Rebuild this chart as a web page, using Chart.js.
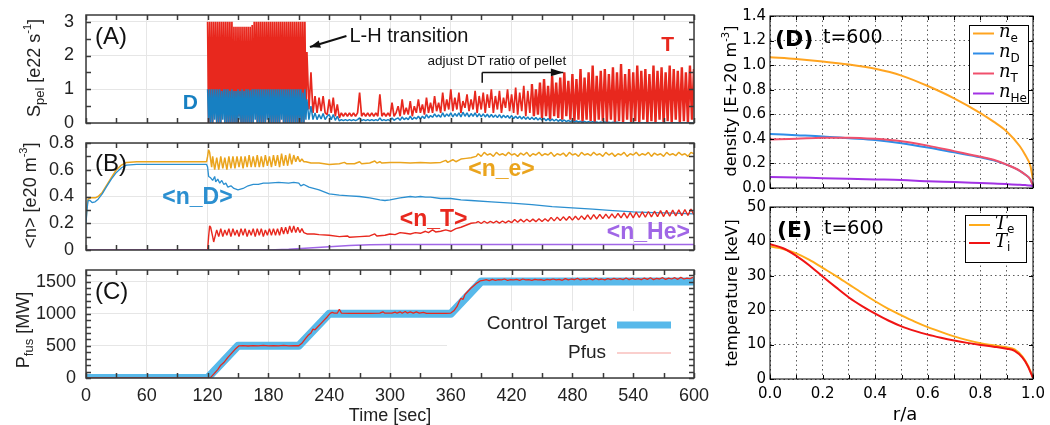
<!DOCTYPE html>
<html>
<head>
<meta charset="utf-8">
<title>Pellet fuelling and fusion power control</title>
<script src="https://cdn.jsdelivr.net/npm/chart.js@4.4.1/dist/chart.umd.min.js"></script>
<style>
  html, body { margin: 0; padding: 0; background: #fff; }
  #page { position: relative; width: 1050px; height: 425px; overflow: hidden; }
  #page canvas { position: absolute; }
</style>
</head>
<body>
<div id="page">
  <canvas id="chartA" width="700" height="132" style="left:0;top:0"></canvas>
  <canvas id="chartB" width="700" height="126" style="left:0;top:132px"></canvas>
  <canvas id="chartC" width="720" height="167" style="left:0;top:258px"></canvas>
  <canvas id="chartD" width="350" height="198" style="left:700px;top:0"></canvas>
  <canvas id="chartE" width="350" height="227" style="left:700px;top:198px"></canvas>
</div>
<script>
// ---------- (A) pellet source rate [e22 /s] ----------
// L-mode phase: one sample per second from t = 120 s to 218 s
const pelletDenseStart = 120, pelletDenseStep = 1;
const pelletTDense = [
  3, 0, 3, 0, 3, 0, 3, 0.4, 3, 0, 3, 0, 3, 0, 3, 0.3, 3, 0, 3, 0,
  3, 0, 3, 0, 3, 0, 2.85, 0, 2.85, 0, 2.85, 0.2, 2.85, 0, 2.85, 0, 2.85, 0, 2.85, 0,
  2.85, 0, 2.85, 0, 2.9, 0, 3, 0.5, 3, 0, 3, 0, 3, 0, 3, 0, 3, 0, 3, 0.3,
  3, 0, 3, 0, 3, 0, 3, 0, 3, 0, 3, 0, 3, 0.4, 3, 0, 3, 0, 3, 0,
  3, 0, 3, 0, 3, 0, 3, 0, 3, 0, 3, 0, 3, 0, 3, 0, 3, 0.3, 2.1
];
const pelletDDense = [
  1, 0, 1, 0, 1, 0, 1, 0.1, 1, 0, 1, 0, 1, 0, 0.95, 0.1, 1, 0, 1, 0,
  1, 0, 0.95, 0, 1, 0, 0.95, 0, 0.95, 0, 1, 0.1, 0.95, 0, 1, 0, 0.95, 0, 1, 0,
  1, 0, 0.97, 0, 1, 0, 1, 0.1, 1, 0, 1, 0, 1, 0, 1, 0, 1, 0, 1, 0.1,
  1, 0, 1, 0, 1, 0, 1, 0, 1, 0, 1, 0, 1, 0.1, 1, 0, 1, 0, 1, 0,
  1, 0, 1, 0, 1, 0, 1, 0, 1, 0, 1, 0, 1, 0, 0.9, 0, 1, 0.1, 0.7
];
// H-mode phase: one sample every 2 s from t = 220 s to 600 s
const pelletLateStart = 220, pelletLateStep = 2;
const pelletTLate = [
  0.4, 1.5, 0.3, 0.8, 0.3, 0.75, 0.35, 0.8, 0.3, 0.25,
  0.7, 0.3, 0.75, 0.2, 0.55, 0.15, 0.3, 0.2, 0.3, 0.2, 0.3, 0.2, 0.3, 0.2, 0.3,
  0.9, 0.2, 0.3, 0.2, 0.3, 0.2, 0.3, 0.2, 0.3, 0.2, 0.85, 0.2, 0.3, 0.2, 0.3,
  0.2, 0.6, 0.2, 0.3, 0.5, 0.2, 0.7, 0.25, 0.45, 0.25, 0.65, 0.2, 0.5, 0.3, 0.7,
  0.3, 0.55, 0.25, 0.75, 0.3, 0.6, 0.3, 0.8, 0.35, 0.6, 0.3, 0.9, 0.35, 0.7, 0.4,
  1.0, 0.35, 0.75, 0.4, 0.9, 0.3, 0.65, 0.45, 0.85, 0.35, 0.7, 0.4, 0.95, 0.3, 0.8,
  0.4, 0.9, 0.3, 0.85, 0.45, 1.0, 0.3, 0.8, 0.4, 0.95, 0.3, 0.75, 0.45, 1.0, 0.35,
  0.85, 0.3, 1.05, 0.25, 0.9, 0.35, 1.1, 0.2, 0.95, 0.3, 1.15, 0.2, 1.0, 0.25, 1.2,
  0.15, 1.3, 0.2, 1.1, 0.1, 1.4, 0.2, 1.2, 0.15, 1.35, 0.1, 1.5, 0.2, 1.25, 0.1,
  1.45, 0.05, 1.3, 0.1, 1.6, 0, 1.35, 0.1, 1.5, 0.05, 1.7, 0, 1.4, 0.1, 1.55,
  0.05, 1.6, 0, 1.45, 0.1, 1.65, 0, 1.5, 0.05, 1.75, 0, 1.45, 0.1, 1.6, 0,
  1.5, 0.05, 1.7, 0, 1.55, 0.1, 1.6, 0, 1.45, 0.05, 1.7, 0, 1.55, 0.1, 1.65,
  0, 1.5, 0.05, 1.7, 0, 1.6, 0.1, 1.55, 0, 1.65, 0.05, 1.5, 0, 1.7, 0.1,
  1.6
];
const pelletDLate = [
  0.1, 0.5, 0.1, 0.3, 0.1, 0.25, 0.12, 0.28, 0.1, 0.2,
  0.25, 0.1, 0.25, 0.08, 0.2, 0.06, 0.1, 0.07, 0.1, 0.07, 0.1, 0.07, 0.1, 0.07, 0.1,
  0.15, 0.07, 0.1, 0.07, 0.1, 0.07, 0.1, 0.07, 0.1, 0.07, 0.15, 0.07, 0.1, 0.07, 0.1,
  0.07, 0.15, 0.08, 0.12, 0.15, 0.08, 0.18, 0.1, 0.15, 0.1, 0.2, 0.1, 0.17, 0.12, 0.2,
  0.12, 0.2, 0.13, 0.25, 0.15, 0.22, 0.17, 0.27, 0.18, 0.24, 0.17, 0.3, 0.18, 0.27, 0.2,
  0.3, 0.18, 0.28, 0.2, 0.3, 0.18, 0.32, 0.2, 0.3, 0.18, 0.28, 0.2, 0.3, 0.18, 0.28,
  0.18, 0.27, 0.18, 0.26, 0.17, 0.25, 0.17, 0.24, 0.16, 0.25, 0.15, 0.23, 0.16, 0.22, 0.14,
  0.22, 0.13, 0.2, 0.13, 0.2, 0.12, 0.19, 0.11, 0.18, 0.1, 0.17, 0.1, 0.16, 0.09, 0.15,
  0.08, 0.14, 0.07, 0.13, 0.06, 0.12, 0.06, 0.11, 0.05, 0.1, 0.05, 0.09, 0.04, 0.08, 0.04,
  0.07, 0.03, 0.06, 0.03, 0.05, 0.02, 0.05, 0.02, 0.04, 0.02, 0.04, 0.01, 0.03, 0.01, 0.03,
  0.01, 0.03, 0.01, 0.02, 0.01, 0.02, 0.01, 0.02, 0.01, 0.01, 0.01, 0.01, 0.01, 0.01, 0.01,
  0.01, 0, 0.01, 0, 0.01, 0, 0.01, 0, 0.01, 0, 0.01, 0, 0.01, 0, 0.01,
  0, 0.01, 0, 0.01, 0, 0.01, 0, 0.01, 0, 0.01, 0, 0.01, 0, 0.01, 0,
  0.01
];

// ---------- (B) volume averaged densities [e20 m^-3] ----------
// [time, value] pairs for the smooth parts, evenly sampled lists for the noisy parts
const neRise = [[0, 0.22], [1, 0.33], [2, 0.38], [5, 0.39], [9, 0.39], [12, 0.4], [16, 0.43], [20, 0.48],
  [25, 0.54], [30, 0.6], [35, 0.635], [40, 0.655], [50, 0.66], [80, 0.66], [119, 0.66], [120, 0.7],
  [121, 0.75], [122, 0.73], [124, 0.62]];
const neOscStart = 125, neOscStep = 2;
const neOsc = [
  0.7, 0.6, 0.69, 0.6, 0.7, 0.61, 0.69, 0.6, 0.7, 0.61,
  0.7, 0.61, 0.7, 0.62, 0.7, 0.61, 0.7, 0.62, 0.71, 0.62,
  0.7, 0.62, 0.71, 0.62, 0.7, 0.62, 0.71, 0.63, 0.7, 0.62,
  0.71, 0.63, 0.71, 0.62, 0.72, 0.63, 0.71, 0.63, 0.72, 0.64,
  0.71, 0.66, 0.7, 0.66, 0.68, 0.66
];
const neMid = [[217, 0.66], [222, 0.65], [230, 0.65], [240, 0.64], [250, 0.645], [255, 0.655], [257, 0.645],
  [265, 0.645], [270, 0.66], [272, 0.645], [280, 0.65], [285, 0.665], [287, 0.65], [290, 0.66], [292, 0.65],
  [300, 0.655], [310, 0.655], [320, 0.65], [330, 0.655], [340, 0.65], [350, 0.655], [355, 0.67], [357, 0.655],
  [362, 0.675], [365, 0.66], [370, 0.68], [375, 0.685], [380, 0.69], [385, 0.7]];
const neLateStart = 387, neLateStep = 3;
const neLate = [
  0.72, 0.70, 0.73, 0.71, 0.72, 0.70, 0.73, 0.71, 0.72, 0.705, 0.73, 0.71,
  0.72, 0.70, 0.725, 0.71, 0.73, 0.70, 0.72, 0.71, 0.73, 0.705, 0.72, 0.71,
  0.73, 0.70, 0.72, 0.71, 0.725, 0.70, 0.73, 0.71, 0.72, 0.70, 0.73, 0.71,
  0.72, 0.705, 0.73, 0.71, 0.72, 0.70, 0.73, 0.71, 0.725, 0.70, 0.72, 0.71,
  0.73, 0.70, 0.72, 0.71, 0.73, 0.705, 0.72, 0.71, 0.73, 0.70, 0.725, 0.71,
  0.72, 0.70, 0.73, 0.71, 0.72, 0.705, 0.73, 0.71, 0.72, 0.70, 0.73, 0.72
];
const nDAvg = [[0, 0.2], [1, 0.3], [2, 0.37], [4, 0.37], [6, 0.355], [9, 0.36], [12, 0.38], [16, 0.42],
  [20, 0.47], [25, 0.53], [30, 0.58], [35, 0.615], [40, 0.635], [50, 0.64], [80, 0.64], [119, 0.64],
  [120, 0.62], [121, 0.55], [123, 0.54], [125, 0.52], [127, 0.55], [128, 0.51], [130, 0.53], [132, 0.5],
  [134, 0.52], [136, 0.49], [138, 0.5], [140, 0.47], [143, 0.48], [146, 0.46], [150, 0.45], [155, 0.46],
  [160, 0.48], [165, 0.49], [170, 0.49], [175, 0.5], [180, 0.5], [190, 0.505], [200, 0.5], [205, 0.505],
  [210, 0.5], [212, 0.48], [215, 0.49], [220, 0.47], [230, 0.45], [240, 0.42], [250, 0.41], [260, 0.405],
  [270, 0.4], [280, 0.39], [290, 0.375], [295, 0.37], [300, 0.375], [310, 0.39], [320, 0.4], [325, 0.395],
  [330, 0.4], [335, 0.395], [340, 0.395], [350, 0.385], [360, 0.385], [370, 0.375], [380, 0.37], [400, 0.36],
  [420, 0.35], [440, 0.34], [460, 0.325], [480, 0.315], [500, 0.305], [520, 0.295], [540, 0.285],
  [560, 0.28], [580, 0.275], [600, 0.27]];
const nTRise = [[0, 0], [120, 0], [121, 0.1], [122, 0.18], [123, 0.17], [125, 0.1], [126, 0.06], [128, 0.12]];
const nTOscStart = 129, nTOscStep = 2;
const nTOsc = [
  0.15, 0.1, 0.16, 0.1, 0.15, 0.11, 0.16, 0.1, 0.16, 0.11,
  0.15, 0.1, 0.16, 0.11, 0.16, 0.1, 0.15, 0.11, 0.16, 0.1,
  0.16, 0.11, 0.16, 0.1, 0.15, 0.11, 0.16, 0.11, 0.16, 0.11,
  0.16, 0.11, 0.17, 0.12, 0.17, 0.12, 0.18, 0.13, 0.18, 0.13,
  0.17, 0.13, 0.16
];
const nTMid = [[215, 0.13], [218, 0.12], [225, 0.12], [230, 0.115], [240, 0.11], [250, 0.1], [258, 0.105],
  [260, 0.095], [270, 0.1], [280, 0.105], [285, 0.12], [287, 0.105], [295, 0.11], [300, 0.12], [305, 0.115],
  [310, 0.13], [315, 0.125], [320, 0.12], [325, 0.13], [330, 0.125], [335, 0.14], [338, 0.13], [342, 0.15],
  [345, 0.135], [350, 0.14], [355, 0.15], [360, 0.14], [365, 0.16], [370, 0.17], [375, 0.185], [380, 0.2],
  [385, 0.205]];
const nTLateStart = 387, nTLateStep = 3;
const nTLate = [
  0.213, 0.198, 0.215, 0.2, 0.214, 0.202, 0.216, 0.201, 0.217, 0.203, 0.218, 0.204,
  0.228, 0.208, 0.229, 0.21, 0.23, 0.211, 0.231, 0.212, 0.233, 0.213, 0.234, 0.215,
  0.244, 0.218, 0.246, 0.22, 0.248, 0.222, 0.25, 0.223, 0.252, 0.225, 0.255, 0.228,
  0.262, 0.229, 0.264, 0.232, 0.266, 0.234, 0.268, 0.236, 0.27, 0.238, 0.273, 0.24,
  0.278, 0.238, 0.28, 0.24, 0.283, 0.243, 0.285, 0.245, 0.288, 0.247, 0.29, 0.25,
  0.294, 0.25, 0.296, 0.252, 0.298, 0.254, 0.3, 0.256, 0.303, 0.259, 0.306, 0.262
];
const nHeAvg = [[0, 0], [180, 0], [200, 0.005], [220, 0.015], [240, 0.025], [260, 0.034], [280, 0.039],
  [300, 0.041], [350, 0.042], [450, 0.041], [600, 0.041]];

// ---------- (C) fusion power [MW] ----------
const pfusTarget = [[0, 0], [120, 0], [150, 500], [210, 500], [240, 1000], [360, 1000], [390, 1500], [600, 1500]];
const pfusRamp = [[0, 0], [120, 0], [123, 10], [126, 60], [130, 130], [133, 200], [136, 240], [140, 320],
  [144, 390], [148, 460], [151, 500], [155, 505], [160, 498], [165, 505], [170, 500], [175, 506], [180, 499],
  [185, 505], [190, 500], [195, 506], [200, 499], [205, 505], [210, 502], [213, 540], [216, 600], [219, 660],
  [222, 700], [224, 760], [226, 750], [229, 800], [232, 850], [235, 900], [238, 950], [241, 1005], [243, 1020],
  [245, 1010], [248, 1008], [250, 1070], [252, 1010], [260, 1005], [270, 1006], [280, 1004], [290, 1008],
  [293, 1030], [295, 1008], [302, 1008], [305, 1025], [307, 1008], [310, 1030], [312, 1008], [315, 1035],
  [317, 1010], [320, 1028], [323, 1008], [326, 1030], [329, 1008], [333, 1020], [336, 1005], [345, 1005],
  [355, 1006], [360, 1010], [363, 1045], [366, 1110], [368, 1180], [370, 1240], [372, 1220], [374, 1300],
  [377, 1350], [380, 1400], [383, 1440], [386, 1480], [389, 1510]];
const pfusFlatStart = 392, pfusFlatStep = 3;
const pfusFlat = [
  1520, 1530, 1515, 1535, 1520, 1530, 1525, 1540, 1520, 1530, 1525, 1535,
  1520, 1540, 1525, 1530, 1520, 1535, 1525, 1530, 1520, 1535, 1525, 1540,
  1525, 1535, 1520, 1545, 1525, 1540, 1530, 1550, 1525, 1540, 1530, 1545,
  1525, 1550, 1530, 1540, 1525, 1545, 1530, 1550, 1535, 1545, 1530, 1555,
  1530, 1550, 1535, 1545, 1530, 1555, 1535, 1560, 1530, 1550, 1540, 1560,
  1535, 1555, 1540, 1560, 1535, 1565, 1540, 1555, 1545, 1565
];

// ---------- (D) density profiles at t = 600 [E+20 m^-3] ----------
const rhoD = [0, 0.1, 0.2, 0.3, 0.4, 0.5, 0.6, 0.7, 0.8, 0.85, 0.9, 0.95, 0.97, 0.99, 1.0];
const neProf = [1.065, 1.05, 1.03, 1.005, 0.97, 0.915, 0.83, 0.73, 0.61, 0.54, 0.46, 0.34, 0.27, 0.18, 0.07];
const nDProf = [0.44, 0.43, 0.42, 0.405, 0.39, 0.365, 0.33, 0.29, 0.25, 0.225, 0.19, 0.14, 0.11, 0.07, 0.02];
const nTProf = [0.395, 0.4, 0.41, 0.41, 0.4, 0.38, 0.345, 0.3, 0.255, 0.23, 0.19, 0.14, 0.11, 0.07, 0.02];
const nHeProf = [0.09, 0.085, 0.08, 0.075, 0.07, 0.065, 0.055, 0.048, 0.04, 0.036, 0.032, 0.027, 0.024, 0.02, 0.015];
const densityNames = ['e', 'D', 'T', 'He'];

// ---------- (E) temperature profiles at t = 600 [keV] ----------
const rhoE = [0, 0.05, 0.1, 0.15, 0.2, 0.25, 0.3, 0.35, 0.4, 0.45, 0.5, 0.55, 0.6, 0.65, 0.7, 0.75, 0.8,
  0.85, 0.9, 0.93, 0.96, 0.98, 1.0];
const teProf = [38.5, 37.8, 36.5, 34.6, 32.3, 30, 27.5, 25, 22.6, 20.4, 18.5, 16.7, 15.1, 13.7, 12.4, 11.3,
  10.4, 9.8, 9.2, 8.6, 6.5, 4, 0.5];
const tiProf = [39.2, 38, 35.8, 33, 29.8, 26.7, 23.7, 21.2, 19, 17, 15.3, 14, 12.9, 12, 11.2, 10.5,
  9.9, 9.4, 8.8, 8.2, 6.2, 3.8, 0.3];
const tempNames = ['e', 'i'];

// ---------- styles ----------
const SANS = '"Liberation Sans", Arial, sans-serif';
const DJ = '"DejaVu Sans", sans-serif';
const SERIF = '"DejaVu Serif", serif';
const RED = '#e8281e';
const BLUE_A = '#1780c2';
const ORANGE_B = '#eaa41d';
const BLUE_B = '#2b8fd0';
const PURPLE_B = '#a066e6';
const TARGET = '#58b9ea';
const densityColors = ['#ffa420', '#2f8de8', '#f0506c', '#a232e4'];
const tempColors = ['#ffab1a', '#f01414'];

Chart.defaults.font.family = SANS;
Chart.defaults.color = '#222';

// ---------- helpers ----------
function pts(pairs) { return pairs.map(p => ({ x: p[0], y: p[1] })); }
function sampled(t0, dt, vals) { return vals.map((v, i) => ({ x: t0 + i * dt, y: v })); }
function profile(rho, vals) { return rho.map((r, i) => ({ x: r, y: vals[i] })); }
function near(v, step) { return Math.abs(v / step - Math.round(v / step)) < 1e-6; }

// note: chart.js paints dataset 0 last, so pass the top-most series first
function line(data, color, width, extra) {
  return Object.assign({ data, borderColor: color, borderWidth: width, pointRadius: 0,
    borderJoinStyle: 'bevel', tension: 0, fill: false }, extra || {});
}

// text made of parts [text, font, dy], optionally rotated
function richText(ctx, x, y, parts, align, angle, color) {
  ctx.save();
  ctx.translate(x, y);
  ctx.rotate(angle || 0);
  ctx.fillStyle = color;
  ctx.textBaseline = 'middle';
  ctx.textAlign = 'left';
  let w = 0;
  parts.forEach(p => { ctx.font = p[1]; w += ctx.measureText(p[0]).width; });
  let cx = align === 'center' ? -w / 2 : align === 'right' ? -w : 0;
  parts.forEach(p => {
    ctx.font = p[1];
    ctx.fillText(p[0], cx, p[2] || 0);
    cx += ctx.measureText(p[0]).width;
  });
  ctx.restore();
}

function arrow(ctx, x1, y1, x2, y2, size, spread) {
  ctx.beginPath();
  ctx.moveTo(x1, y1);
  ctx.lineTo(x2, y2);
  ctx.stroke();
  const a = Math.atan2(y2 - y1, x2 - x1);
  ctx.beginPath();
  ctx.moveTo(x2, y2);
  ctx.lineTo(x2 - size * Math.cos(a - spread), y2 - size * Math.sin(a - spread));
  ctx.lineTo(x2 - size * Math.cos(a + spread), y2 - size * Math.sin(a + spread));
  ctx.closePath();
  ctx.fill();
}

// box around the plot with inward ticks on all four sides
function frame(color, width, len) {
  return {
    id: 'frame',
    afterDatasetsDraw(chart) {
      const { ctx, chartArea: a, scales: { x, y } } = chart;
      ctx.save();
      ctx.strokeStyle = color;
      ctx.lineWidth = width;
      ctx.beginPath();
      x.ticks.forEach(t => {
        const p = Math.round(x.getPixelForValue(t.value)) + 0.5;
        ctx.moveTo(p, a.bottom); ctx.lineTo(p, a.bottom - len);
        ctx.moveTo(p, a.top); ctx.lineTo(p, a.top + len);
      });
      y.ticks.forEach(t => {
        const p = Math.round(y.getPixelForValue(t.value)) + 0.5;
        ctx.moveTo(a.left, p); ctx.lineTo(a.left + len, p);
        ctx.moveTo(a.right, p); ctx.lineTo(a.right - len, p);
      });
      ctx.stroke();
      ctx.strokeRect(a.left, a.top, a.right - a.left, a.bottom - a.top);
      ctx.restore();
    }
  };
}

// ---------- axes ----------
function timeAxis(showLabels, height) {
  return {
    type: 'linear', min: 0, max: 600,
    ticks: { stepSize: 30, display: showLabels, padding: 7, autoSkip: false, maxRotation: 0,
      font: { size: 18 }, callback: v => near(v, 60) ? String(v) : '' },
    grid: { drawTicks: false, color: c => near(c.tick.value, 60) ? '#e6e6e6' : 'rgba(0,0,0,0)' },
    border: { display: false },
    afterFit: s => { s.height = height; s.paddingLeft = 0; s.paddingRight = 0; }
  };
}

function valueAxis(max, step, labelStep, pad, fmt) {
  return {
    type: 'linear', min: 0, max: max,
    ticks: { stepSize: step, includeBounds: false, padding: pad, autoSkip: false, font: { size: 18 },
      callback: v => near(v, labelStep) ? fmt(v) : '' },
    grid: { drawTicks: false, color: c => near(c.tick.value, labelStep) ? '#e6e6e6' : 'rgba(0,0,0,0)' },
    border: { display: false },
    afterFit: s => { s.width = 86; s.paddingTop = 0; s.paddingBottom = 0; }
  };
}

function rhoAxis(showLabels, height) {
  return {
    type: 'linear', min: 0, max: 1,
    ticks: { stepSize: 0.1, display: showLabels, padding: 6, autoSkip: false, maxRotation: 0, color: '#000',
      font: { family: DJ, size: 15 }, callback: v => near(v, 0.2) ? v.toFixed(1) : '' },
    grid: { drawTicks: false, color: '#333', lineWidth: 0.8 },
    border: { display: false, dash: [1.5, 3] },
    afterFit: s => { s.height = height; s.paddingLeft = 0; s.paddingRight = 0; }
  };
}

function profileAxis(max, step, fmt) {
  return {
    type: 'linear', min: 0, max: max,
    ticks: { stepSize: step, padding: 4, autoSkip: false, color: '#000',
      font: { family: DJ, size: 15 }, callback: fmt },
    grid: { drawTicks: false, color: '#333', lineWidth: 0.8 },
    border: { display: false, dash: [1.5, 3] },
    afterFit: s => { s.width = 70; s.paddingTop = 0; s.paddingBottom = 0; }
  };
}

function makeChart(id, datasets, scales, padding, plugins) {
  return new Chart(document.getElementById(id), {
    type: 'line',
    data: { datasets },
    options: {
      responsive: false,
      animation: false,
      devicePixelRatio: 1,
      layout: { padding },
      plugins: { legend: { display: false }, tooltip: { enabled: false } },
      scales
    },
    plugins
  });
}

// ---------- (A) ----------
const overlayA = {
  id: 'overlayA',
  afterDraw(chart) {
    const { ctx, chartArea: a, scales: { x, y } } = chart;
    const px = v => x.getPixelForValue(v), py = v => y.getPixelForValue(v);
    ctx.save();
    ctx.textBaseline = 'middle';
    ctx.fillStyle = '#111';
    ctx.font = '24px ' + SANS;
    ctx.fillText('(A)', a.left + 9, a.top + 22);
    ctx.font = '20px ' + SANS;
    ctx.fillText('L-H transition', px(260), py(2.55));
    ctx.strokeStyle = '#111';
    ctx.lineWidth = 2;
    arrow(ctx, px(257), py(2.58), px(221), py(2.25), 11, 0.35);
    ctx.font = '13.5px ' + SANS;
    ctx.fillText('adjust DT ratio of pellet', px(337), py(1.82));
    ctx.lineWidth = 1.5;
    ctx.beginPath();
    ctx.moveTo(px(391), py(1.19));
    ctx.lineTo(px(391), py(1.5));
    ctx.stroke();
    arrow(ctx, px(391), py(1.5), px(471), py(1.5), 13, 0.3);
    ctx.font = 'bold 21px ' + SANS;
    ctx.textAlign = 'center';
    ctx.fillStyle = BLUE_A;
    ctx.fillText('D', px(103), py(0.59));
    ctx.fillStyle = RED;
    ctx.fillText('T', px(574), py(2.31));
    ctx.restore();
    richText(ctx, a.left - 51, (a.top + a.bottom) / 2 - 1,
      [['S', '18px ' + SANS], ['pel', '13px ' + SANS, 5], [' [e22 s', '18px ' + SANS], ['-1', '11px ' + SANS, -7],
       [']', '18px ' + SANS]], 'center', -Math.PI / 2, '#222');
  }
};

// the late tritium spikes are packed tighter in the original, so draw them a bit heavier
const lateSpikes = { segment: { borderWidth: c => c.p0.parsed.x >= 440 ? 2.4 : 1.7 } };

makeChart('chartA', [
  line([...sampled(pelletDenseStart, pelletDenseStep, pelletDDense),
    ...sampled(pelletLateStart, pelletLateStep, pelletDLate)], BLUE_A, 1.5),
  line([...sampled(pelletDenseStart, pelletDenseStep, pelletTDense),
    ...sampled(pelletLateStart, pelletLateStep, pelletTLate)], RED, 1.7, lateSpikes)
], {
  x: timeAxis(false, 9),
  y: valueAxis(3.2, 0.5, 1, 12, v => String(Math.round(v)))
}, { left: 0, top: 15, right: 6, bottom: 0 }, [frame('#3a3a3a', 1.5, 5), overlayA]);

// ---------- (B) ----------
const overlayB = {
  id: 'overlayB',
  afterDraw(chart) {
    const { ctx, chartArea: a, scales: { x, y } } = chart;
    const px = v => x.getPixelForValue(v), py = v => y.getPixelForValue(v);
    ctx.save();
    ctx.textBaseline = 'middle';
    ctx.fillStyle = '#111';
    ctx.font = '24px ' + SANS;
    ctx.fillText('(B)', a.left + 9, a.top + 21);
    ctx.font = 'bold 23px ' + SANS;
    ctx.textAlign = 'center';
    ctx.fillStyle = BLUE_B;
    ctx.fillText('<n_D>', px(110), py(0.39));
    ctx.fillStyle = ORANGE_B;
    ctx.fillText('<n_e>', px(410), py(0.6));
    ctx.fillStyle = RED;
    ctx.fillText('<n_T>', px(343), py(0.225));
    ctx.fillStyle = PURPLE_B;
    ctx.fillText('<n_He>', px(555), py(0.127));
    ctx.restore();
    richText(ctx, a.left - 55, (a.top + a.bottom) / 2 - 1,
      [['<n> [e20 m', '18px ' + SANS], ['-3', '11px ' + SANS, -7], [']', '18px ' + SANS]],
      'center', -Math.PI / 2, '#222');
  }
};

makeChart('chartB', [
  line(pts(nHeAvg), PURPLE_B, 1.5),
  line([...pts(nTRise), ...sampled(nTOscStart, nTOscStep, nTOsc), ...pts(nTMid),
    ...sampled(nTLateStart, nTLateStep, nTLate)], RED, 1.4),
  line(pts(nDAvg), BLUE_B, 1.3),
  line([...pts(neRise), ...sampled(neOscStart, neOscStep, neOsc), ...pts(neMid),
    ...sampled(neLateStart, neLateStep, neLate)], ORANGE_B, 1.5)
], {
  x: timeAxis(false, 8),
  y: valueAxis(0.8, 0.1, 0.2, 12, v => near(v, 1) ? String(Math.round(v)) : v.toFixed(1))
}, { left: 0, top: 11, right: 6, bottom: 0 }, [frame('#3a3a3a', 1.5, 5), overlayB]);

// ---------- (C) ----------
const overlayC = {
  id: 'overlayC',
  beforeDatasetsDraw(chart) {
    const { ctx, chartArea: a } = chart;
    ctx.save();
    ctx.fillStyle = '#fff';
    ctx.fillRect(a.right - 247, a.top + 41, 246, a.bottom - a.top - 42);
    ctx.textBaseline = 'middle';
    ctx.textAlign = 'right';
    ctx.fillStyle = '#222';
    ctx.font = '19px ' + SANS;
    ctx.fillText('Control Target', a.right - 88, a.top + 54);
    ctx.fillText('Pfus', a.right - 88, a.top + 83);
    ctx.strokeStyle = TARGET;
    ctx.lineWidth = 7;
    ctx.beginPath(); ctx.moveTo(a.right - 77, a.top + 55); ctx.lineTo(a.right - 23, a.top + 55); ctx.stroke();
    ctx.strokeStyle = 'rgba(232,40,30,0.45)';
    ctx.lineWidth = 1.2;
    ctx.beginPath(); ctx.moveTo(a.right - 77, a.top + 83); ctx.lineTo(a.right - 23, a.top + 83); ctx.stroke();
    ctx.restore();
  },
  afterDraw(chart) {
    const { ctx, chartArea: a } = chart;
    ctx.save();
    ctx.textBaseline = 'middle';
    ctx.fillStyle = '#111';
    ctx.font = '24px ' + SANS;
    ctx.fillText('(C)', a.left + 9, a.top + 22);
    ctx.fillStyle = '#222';
    ctx.font = '18px ' + SANS;
    ctx.textAlign = 'center';
    ctx.fillText('Time [sec]', (a.left + a.right) / 2, a.bottom + 38);
    ctx.restore();
    richText(ctx, a.left - 62, (a.top + a.bottom) / 2 + 6,
      [['P', '18px ' + SANS], ['fus', '13px ' + SANS, 5], [' [MW]', '18px ' + SANS]],
      'center', -Math.PI / 2, '#222');
  }
};

makeChart('chartC', [
  line([...pts(pfusRamp), ...sampled(pfusFlatStart, pfusFlatStep, pfusFlat)], RED, 1.3),
  line(pts(pfusTarget), TARGET, 8, { borderJoinStyle: 'round' })
], {
  x: timeAxis(true, 47),
  y: valueAxis(1680, 100, 500, 10, v => String(Math.round(v)))
}, { left: 0, top: 12, right: 26, bottom: 0 }, [overlayC, frame('#3a3a3a', 1.5, 5)]);

// ---------- (D) ----------
function mathLegend(ctx, bx, by, bw, bh, rowTop, rowGap, main, names, colors) {
  ctx.save();
  ctx.fillStyle = '#fff';
  ctx.fillRect(bx, by, bw, bh);
  ctx.strokeStyle = '#000';
  ctx.lineWidth = 1;
  ctx.strokeRect(bx + 0.5, by + 0.5, bw, bh);
  names.forEach((n, i) => {
    const ry = by + rowTop + i * rowGap;
    ctx.strokeStyle = colors[i];
    ctx.lineWidth = 2;
    ctx.beginPath(); ctx.moveTo(bx + 4, ry); ctx.lineTo(bx + 25, ry); ctx.stroke();
    richText(ctx, bx + 30, ry, [[main, 'italic 18px ' + SERIF, -1], [n, '12px ' + DJ, 5]], 'left', 0, '#000');
  });
  ctx.restore();
}

const overlayD = {
  id: 'overlayD',
  afterDraw(chart) {
    const { ctx, chartArea: a } = chart;
    ctx.save();
    ctx.textBaseline = 'middle';
    ctx.fillStyle = '#000';
    ctx.font = 'bold 22px ' + DJ;
    ctx.fillText('(D)', a.left + 5, a.top + 24);
    ctx.font = '19px ' + DJ;
    ctx.fillText('t=600', a.left + 53, a.top + 22);
    ctx.restore();
    mathLegend(ctx, a.right - 64, a.top + 9, 59, 78, 8.5, 20, 'n', densityNames, densityColors);
    richText(ctx, a.left - 38, (a.top + a.bottom) / 2 - 1,
      [['density [E+20 m', '16px ' + DJ], ['-3', '10px ' + DJ, -6], [']', '16px ' + DJ]],
      'center', -Math.PI / 2, '#000');
  }
};

const smooth = { cubicInterpolationMode: 'monotone', borderJoinStyle: 'round' };
makeChart('chartD', [
  line(profile(rhoD, nHeProf), densityColors[3], 2, smooth),
  line(profile(rhoD, nTProf), densityColors[2], 2, smooth),
  line(profile(rhoD, nDProf), densityColors[1], 2, smooth),
  line(profile(rhoD, neProf), densityColors[0], 2, smooth)
], {
  x: rhoAxis(false, 10),
  y: profileAxis(1.4, 0.2, v => v.toFixed(1))
}, { left: 0, top: 16, right: 17, bottom: 0 }, [frame('#000', 1, 4), overlayD]);

// ---------- (E) ----------
const overlayE = {
  id: 'overlayE',
  afterDraw(chart) {
    const { ctx, chartArea: a } = chart;
    ctx.save();
    ctx.textBaseline = 'middle';
    ctx.fillStyle = '#000';
    ctx.font = 'bold 22px ' + DJ;
    ctx.fillText('(E)', a.left + 7, a.top + 24);
    ctx.font = '19px ' + DJ;
    ctx.fillText('t=600', a.left + 54, a.top + 22);
    ctx.font = '18px ' + DJ;
    ctx.textAlign = 'center';
    ctx.fillText('r/a', a.left + 135, a.bottom + 36);
    ctx.restore();
    mathLegend(ctx, a.right - 68, a.top + 8, 61, 47, 10, 18, 'T', tempNames, tempColors);
    richText(ctx, a.left - 37, (a.top + a.bottom) / 2,
      [['temperature [keV]', '16px ' + DJ]], 'center', -Math.PI / 2, '#000');
  }
};

makeChart('chartE', [
  line(profile(rhoE, tiProf), tempColors[1], 2, smooth),
  line(profile(rhoE, teProf), tempColors[0], 2, smooth)
], {
  x: rhoAxis(true, 46),
  y: profileAxis(50, 10, v => String(Math.round(v)))
}, { left: 0, top: 9, right: 17, bottom: 0 }, [frame('#000', 1, 4), overlayE]);
</script>
</body>
</html>
